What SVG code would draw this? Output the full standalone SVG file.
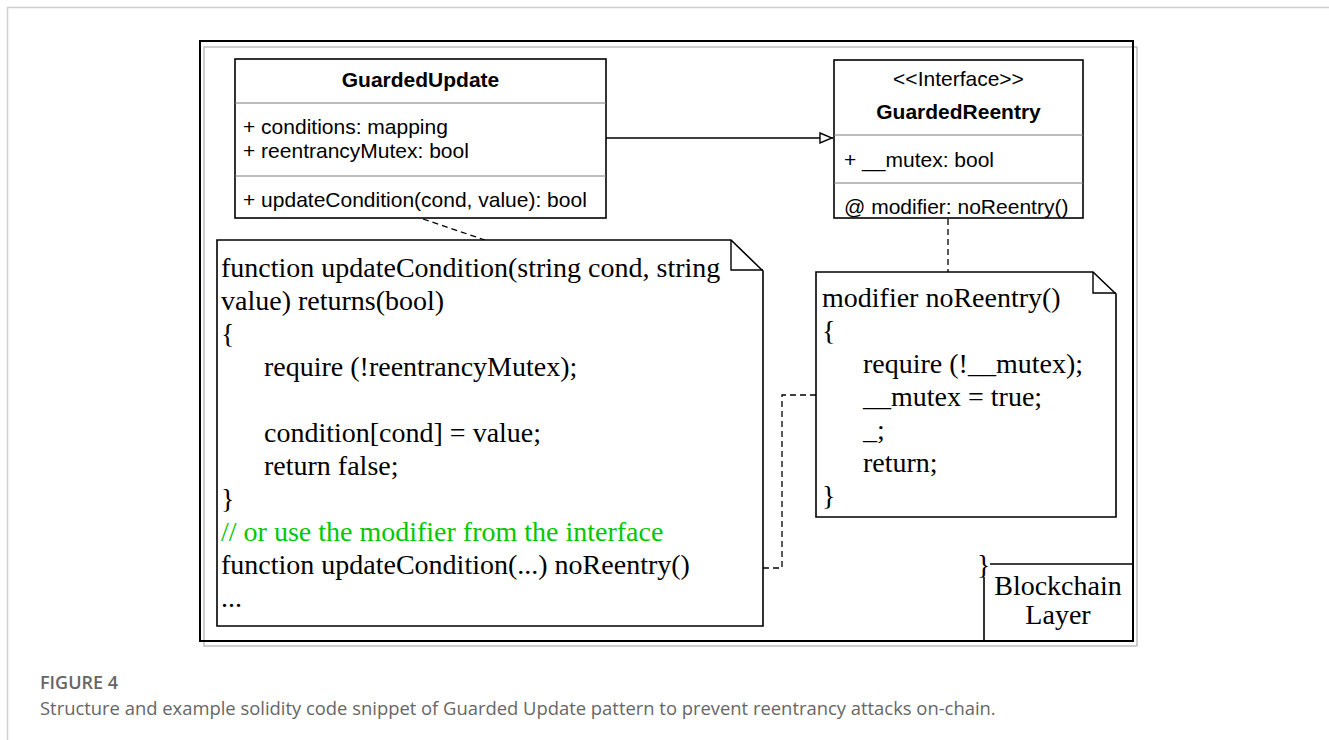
<svg xmlns="http://www.w3.org/2000/svg" width="1329" height="740" viewBox="0 0 1329 740">
<style>
.card{fill:#fff;stroke:#d0d0d0;stroke-width:1.5}
.frame{fill:none;stroke:#000;stroke-width:2}
.shadow{fill:none;stroke:#bdbdbd;stroke-width:1.5}
.box{fill:#fff;stroke:#000;stroke-width:1.6}
.div{stroke:#7a7a7a;stroke-width:1}
.uml{font-family:"Liberation Sans",Arial,sans-serif;font-size:21px;fill:#000}
.b{font-weight:bold}
.code{font-family:"Liberation Serif","Times New Roman",serif;font-size:28px;fill:#000}
.green{fill:#00c800}
.dash{fill:none;stroke:#000;stroke-width:1.3;stroke-dasharray:6 4}
.line{fill:none;stroke:#000;stroke-width:1.6}
.fold{fill:none;stroke:#000;stroke-width:1.4}
.cap1{font-family:"Open Sans",sans-serif;font-weight:600;font-size:18px;fill:#666}
.cap2{font-family:"Open Sans",sans-serif;font-size:18.4px;fill:#666}
</style>
<defs>
<marker id="tri" viewBox="0 0 14 12" refX="14" refY="6" markerWidth="14" markerHeight="12" markerUnits="userSpaceOnUse" orient="auto">
<path d="M1,1 L13,6 L1,11 Z" fill="#fff" stroke="#000" stroke-width="1.4"/>
</marker>
</defs>
<rect class="card" x="7.5" y="7.5" width="1400" height="800"/>
<rect class="shadow" x="204" y="47" width="933" height="599"/>
<rect class="frame" x="200" y="41" width="933" height="600"/>

<g id="connectors">
<line class="line" x1="606" y1="138" x2="833" y2="138" marker-end="url(#tri)"/>
<line class="dash" x1="423" y1="219" x2="485" y2="240"/>
<line class="dash" x1="948" y1="219" x2="948" y2="272"/>
<polyline class="dash" points="693,568 782,568 782,395 816,395"/>
</g>

<g id="GuardedUpdate">
<rect class="box" x="235" y="59" width="371" height="159"/>
<line class="div" x1="235" y1="103" x2="606" y2="103"/>
<line class="div" x1="235" y1="176" x2="606" y2="176"/>
<text class="uml b" x="420.5" y="87" text-anchor="middle">GuardedUpdate</text>
<text class="uml" x="243" y="134">+ conditions: mapping</text>
<text class="uml" x="243" y="158">+ reentrancyMutex: bool</text>
<text class="uml" x="243" y="207">+ updateCondition(cond, value): bool</text>
</g>

<g id="GuardedReentry">
<rect class="box" x="834" y="60" width="249" height="158"/>
<line class="div" x1="834" y1="135" x2="1083" y2="135"/>
<line class="div" x1="834" y1="183" x2="1083" y2="183"/>
<text class="uml" x="958.5" y="86" text-anchor="middle">&lt;&lt;Interface&gt;&gt;</text>
<text class="uml b" x="958.5" y="119" text-anchor="middle">GuardedReentry</text>
<text class="uml" x="844" y="167">+ __mutex: bool</text>
<text class="uml" x="844" y="214">@ modifier: noReentry()</text>
</g>

<g id="note-updateCondition">
<path class="box" d="M217,240 H731 L763,271 V626 H217 Z"/>
<path class="fold" d="M731,240 V270 H763"/>
<text class="code" x="221" y="277">function updateCondition(string cond, string</text>
<text class="code" x="221" y="310">value) returns(bool)</text>
<text class="code" x="221" y="343">{</text>
<text class="code" x="264" y="376">require (!reentrancyMutex);</text>
<text class="code" x="264" y="442">condition[cond] = value;</text>
<text class="code" x="264" y="475">return false;</text>
<text class="code" x="221" y="508">}</text>
<text class="code green" x="221" y="541">// or use the modifier from the interface</text>
<text class="code" x="221" y="574">function updateCondition(...) noReentry()</text>
<text class="code" x="221" y="607">...</text>
</g>

<g id="note-noReentry">
<path class="box" d="M816,272 H1093 L1116,294 V517 H816 Z"/>
<path class="fold" d="M1093,272 V293 H1116"/>
<text class="code" x="822" y="307">modifier noReentry()</text>
<text class="code" x="822" y="340">{</text>
<text class="code" x="863" y="373">require (!__mutex);</text>
<text class="code" x="863" y="406">__mutex = true;</text>
<text class="code" x="863" y="439">_;</text>
<text class="code" x="863" y="472">return;</text>
<text class="code" x="822" y="505">}</text>
</g>

<g id="blockchain-layer">
<path class="line" d="M984,641 V577 M990,564 H1133"/>
<text class="code" x="977" y="574">}</text>
<text class="code" x="1058" y="595" text-anchor="middle">Blockchain</text>
<text class="code" x="1058" y="624" text-anchor="middle">Layer</text>
</g>

<text class="cap1" x="40" y="689">FIGURE 4</text>
<text class="cap2" x="40" y="715">Structure and example solidity code snippet of Guarded Update pattern to prevent reentrancy attacks on-chain.</text>
</svg>
